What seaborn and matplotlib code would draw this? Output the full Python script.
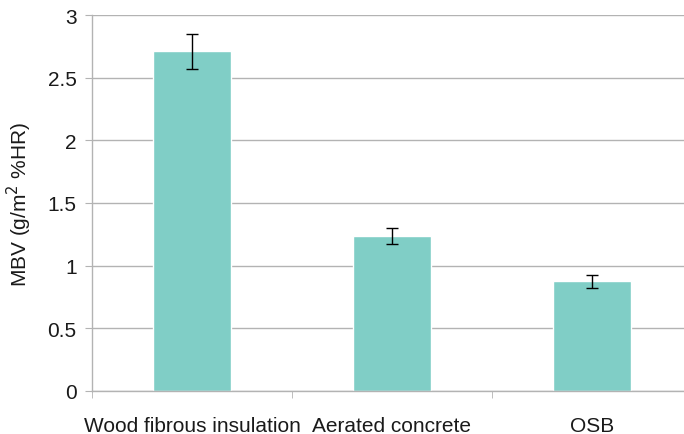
import matplotlib
matplotlib.use("Agg")
import matplotlib.pyplot as plt
import seaborn as sns
import pandas as pd
from matplotlib.ticker import FixedLocator

# data
materials = ["Wood fibrous insulation", "Aerated concrete", "OSB"]
mbv = [2.71, 1.235, 0.875]
mbv_err = [0.14, 0.065, 0.05]

df = pd.DataFrame({"material": materials, "mbv": mbv})

sns.set_style("white")
plt.rcParams["font.family"] = ["Liberation Sans", "DejaVu Sans"]
plt.rcParams["text.color"] = "#1a1a1a"
plt.rcParams["axes.labelcolor"] = "#1a1a1a"
plt.rcParams["xtick.labelcolor"] = "#1a1a1a"
plt.rcParams["ytick.labelcolor"] = "#1a1a1a"

fig = plt.figure(figsize=(6.84, 4.35), dpi=100)
ax = fig.add_axes([92 / 684, 43 / 435, 1 - 92 / 684, (392 - 16) / 435])

sns.barplot(data=df, x="material", y="mbv", color="#80CEC6", saturation=1,
            width=0.39, errorbar=None, ax=ax, zorder=2)
ax.errorbar(range(len(materials)), mbv, yerr=mbv_err, fmt="none",
            ecolor="black", elinewidth=1, capsize=4.5, capthick=1, zorder=3)

ax.set_ylim(0, 3)
ax.set_yticks([0, 0.5, 1, 1.5, 2, 2.5, 3])
ax.set_yticklabels(["0", "0.5", "1", "1.5", "2", "2.5", "3"])
ax.set_xlim(-0.5, 2.46)
ax.yaxis.grid(True, color="#B3B3B3", linewidth=1)
ax.set_axisbelow(True)

ax.set_xlabel("")
ax.set_ylabel("MBV (g/m$^2$ %HR)", fontsize=15, labelpad=10)
ax.tick_params(axis="y", labelsize=15, length=5, color="#B3B3B3", left=True, pad=6)
ax.tick_params(axis="x", which="major", labelsize=15, length=0, pad=18)
ax.xaxis.set_minor_locator(FixedLocator([-0.5, 0.5, 1.5, 2.5]))
ax.tick_params(axis="x", which="minor", length=5, color="#B3B3B3", bottom=True)

for side in ["top", "right"]:
    ax.spines[side].set_visible(False)
for side in ["left", "bottom"]:
    ax.spines[side].set_color("#B3B3B3")
    ax.spines[side].set_linewidth(1)

fig.savefig("out.png", dpi=100)
